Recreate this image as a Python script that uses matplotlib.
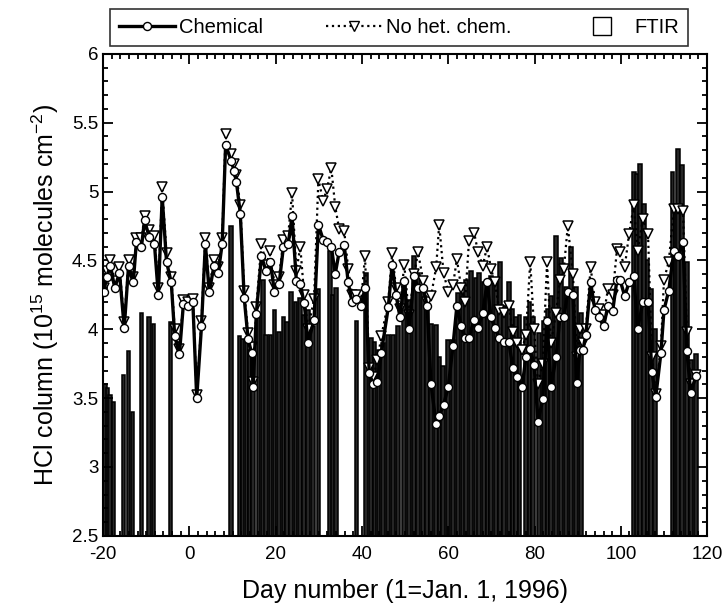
# -*- coding: utf-8 -*-
# HCl kolona: hemijski model, model bez het. hemije i FTIR merenja

# %% biblioteke

import numpy as np
import matplotlib.pyplot as plt
from matplotlib.lines import Line2D
from matplotlib.ticker import MultipleLocator, FixedLocator, FixedFormatter

# %% podaci (ocitano sa slike)

dani_model = [-19.8, -19.2, -18.3, -17.3, -16.2, -15.1, -14.1, -13.0, -12.3, -11.1,
              -10.4, -9.3, -8.1, -7.2, -6.3, -5.3, -4.2, -3.4, -2.3, -1.4,
              -0.3, 0.8, 1.7, 2.8, 3.7, 4.6, 5.7, 6.7, 7.6, 8.4,
              9.7, 10.4, 10.9, 11.8, 12.7, 13.6, 14.4, 14.8, 15.5, 16.7,
              17.8, 18.8, 19.7, 20.8, 21.8, 22.9, 23.8, 24.8, 25.7, 26.6,
              27.5, 28.9, 29.9, 31.0, 31.9, 32.9, 33.8, 34.7, 35.9, 36.8,
              37.7, 38.6, 39.8, 40.7, 41.7, 42.6, 43.6, 44.5, 46.1, 47.0,
              47.9, 48.8, 49.8, 50.9, 52.1, 53.0, 54.2, 55.1, 56.0, 57.2,
              57.9, 58.9, 60.0, 61.1, 62.0, 63.0, 63.9, 64.8, 66.0, 66.9,
              68.0, 69.0, 69.9, 70.8, 71.8, 72.9, 74.0, 75.0, 75.9, 77.1,
              78.0, 79.0, 79.9, 80.8, 81.9, 82.9, 83.8, 85.0, 85.9, 86.8,
              87.7, 88.9, 89.8, 90.5, 91.2, 91.9, 93.0, 94.0, 94.9, 96.0,
              97.0, 98.1, 99.1, 99.8, 100.9, 101.9, 103.0, 103.9, 105.1, 106.3,
              107.2, 108.1, 109.3, 110.0, 111.1, 112.3, 113.2, 114.4, 115.3, 116.2,
              117.4]

chem = [4.27, 4.38, 4.46, 4.30, 4.41, 4.01, 4.46, 4.34, 4.63, 4.60,
        4.79, 4.67, 4.62, 4.25, 4.96, 4.49, 4.34, 3.95, 3.82, 4.18,
        4.17, 4.20, 3.50, 4.02, 4.62, 4.27, 4.46, 4.41, 4.62, 5.34,
        5.22, 5.15, 5.07, 4.84, 4.23, 3.93, 3.83, 3.58, 4.11, 4.53,
        4.42, 4.49, 4.27, 4.33, 4.60, 4.62, 4.82, 4.35, 4.33, 4.19,
        3.90, 4.07, 4.76, 4.65, 4.63, 4.60, 4.40, 4.56, 4.61, 4.34,
        4.20, 4.22, 4.17, 4.30, 3.68, 3.60, 3.62, 3.83, 4.16, 4.47,
        4.25, 4.09, 4.35, 4.00, 4.39, 4.30, 4.30, 4.17, 3.60, 3.31,
        3.37, 3.45, 3.58, 3.88, 4.17, 4.02, 3.94, 3.94, 4.07, 4.01,
        4.12, 4.34, 4.09, 4.01, 3.94, 3.91, 3.91, 3.72, 3.65, 3.58,
        3.80, 3.86, 3.74, 3.33, 3.49, 4.06, 3.58, 3.80, 4.09, 4.09,
        4.27, 4.25, 3.61, 3.85, 3.85, 3.96, 4.34, 4.14, 4.09, 4.02,
        4.17, 4.13, 4.36, 4.36, 4.24, 4.34, 4.39, 4.00, 4.20, 4.20,
        3.69, 3.51, 3.83, 4.14, 4.28, 4.57, 4.53, 4.63, 3.84, 3.54,
        3.66]

no_het = [4.30, 4.42, 4.50, 4.35, 4.45, 4.05, 4.50, 4.38, 4.66, 4.66,
          4.82, 4.72, 4.68, 4.30, 5.03, 4.55, 4.38, 4.00, 3.86, 4.21,
          4.20, 4.22, 3.52, 4.06, 4.66, 4.30, 4.50, 4.45, 4.66, 5.42,
          5.27, 5.20, 5.12, 4.90, 4.28, 3.97, 3.87, 3.62, 4.16, 4.62,
          4.47, 4.57, 4.32, 4.38, 4.65, 4.68, 4.99, 4.42, 4.60, 4.25,
          4.00, 4.22, 5.09, 4.93, 5.02, 5.17, 4.89, 4.73, 4.71, 4.44,
          4.25, 4.25, 4.20, 4.53, 3.72, 3.65, 3.78, 3.95, 4.20, 4.55,
          4.30, 4.15, 4.47, 4.10, 4.40, 4.56, 4.35, 4.20, 4.24, 4.45,
          4.76, 4.41, 4.27, 4.32, 4.51, 4.30, 4.20, 4.64, 4.70, 4.56,
          4.46, 4.60, 4.44, 4.34, 4.14, 4.12, 4.17, 3.98, 3.90, 3.85,
          3.96, 4.49, 4.00, 3.60, 3.75, 4.49, 3.90, 4.12, 4.36, 4.44,
          4.75, 4.40, 3.80, 4.00, 3.90, 4.00, 4.45, 4.20, 4.15, 4.10,
          4.29, 4.25, 4.58, 4.56, 4.45, 4.69, 4.90, 4.57, 4.80, 4.69,
          3.80, 3.53, 3.88, 4.36, 4.49, 4.87, 4.87, 4.86, 3.98, 3.60,
          3.67]

dani_ftir = [-19.6, -19.0, -18.4, -17.6, -15.3, -14.1, -13.2, -11.1, -9.3, -8.3,
             -4.4, 9.7, 11.6, 12.3, 13.2, 13.9, 14.8, 16.0, 17.1, 17.8,
             18.8, 19.7, 20.8, 21.8, 22.7, 23.6, 24.6, 25.7, 26.6, 27.5,
             28.7, 29.9, 32.6, 33.3, 34.0, 38.7, 41.0, 42.1, 42.9, 43.8,
             44.8, 46.1, 47.2, 48.3, 49.8, 50.9, 52.1, 53.0, 54.2, 55.1,
             56.0, 57.2, 58.0, 58.8, 60.0, 61.1, 62.3, 63.4, 64.1, 65.3,
             66.4, 67.1, 68.3, 69.1, 69.9, 71.1, 72.0, 72.9, 74.1, 74.9,
             75.7, 76.5, 78.0, 78.8, 79.6, 81.0, 82.2, 83.0, 83.8, 85.0,
             86.1, 87.3, 88.4, 89.6, 90.7, 103.0, 103.7, 104.5, 105.3, 106.2,
             107.0, 107.9, 112.0, 112.8, 113.2, 114.1, 115.3, 116.2, 117.4]

ftir = [3.60, 3.57, 3.52, 3.47, 3.67, 3.84, 3.40, 4.12, 4.09, 4.04,
        4.05, 4.75, 3.95, 3.93, 3.93, 3.85, 3.83, 4.09, 4.36, 3.96,
        3.96, 4.14, 3.98, 4.09, 4.05, 4.27, 4.20, 4.23, 4.10, 4.14,
        4.02, 4.29, 4.57, 4.25, 4.30, 4.06, 4.41, 3.94, 3.91, 3.85,
        3.90, 3.96, 3.96, 4.02, 4.36, 4.21, 4.53, 4.41, 4.31, 4.15,
        4.04, 4.03, 3.80, 3.73, 3.92, 3.92, 4.26, 4.26, 4.36, 4.42,
        4.37, 4.41, 4.34, 4.30, 4.39, 4.36, 4.49, 4.17, 4.34, 4.15,
        4.09, 4.10, 4.09, 4.20, 4.09, 3.97, 4.06, 4.15, 4.24, 4.68,
        4.52, 4.31, 4.60, 4.31, 4.12, 5.14, 5.13, 5.20, 4.91, 4.50,
        4.29, 4.00, 5.14, 4.90, 5.31, 5.19, 4.49, 3.78, 3.82]

x_ticks = [-20, 0, 20, 40, 60, 80, 100, 120]
y_ticks = [2.5, 3, 3.5, 4, 4.5, 5, 5.5, 6]
y_tick_labels = ['2.5', '3', '3.5', '4', '4.5', '5', '5.5', '6']

# %% stil

plt.rcParams['font.family'] = ['Liberation Sans', 'DejaVu Sans']
plt.rcParams['mathtext.default'] = 'regular'
plt.rcParams['axes.unicode_minus'] = False

Y_MIN = 2.5

# %% grafik

fig = plt.figure(figsize=(7.26, 6.11), dpi=100)
ax = fig.add_axes([0.142, 0.123, 0.832, 0.789])

ftir_h = np.array(ftir) - Y_MIN
ax.bar(dani_ftir, ftir_h, bottom=Y_MIN, width=0.85, color='0.15',
       edgecolor='black', linewidth=1.1, zorder=1)

ax.plot(dani_model, no_het, color='black', linestyle=':', linewidth=1.6,
        marker='v', markersize=6.5, markerfacecolor='white',
        markeredgecolor='black', markeredgewidth=1.1, zorder=2)
ax.plot(dani_model, chem, color='black', linestyle='-', linewidth=2.4,
        marker='o', markersize=5.8, markerfacecolor='white',
        markeredgecolor='black', markeredgewidth=1.0, zorder=3)

ax.set_xlim(-20, 120)
ax.set_ylim(2.5, 6)
ax.xaxis.set_major_locator(FixedLocator(x_ticks))
ax.xaxis.set_minor_locator(MultipleLocator(2))
ax.yaxis.set_major_locator(FixedLocator(y_ticks))
ax.yaxis.set_major_formatter(FixedFormatter(y_tick_labels))
ax.yaxis.set_minor_locator(MultipleLocator(0.1))

ax.tick_params(which='both', direction='in', top=True, right=True,
               labelsize=13.5, width=1.3)
ax.tick_params(which='major', length=7)
ax.tick_params(which='minor', length=3.5)
ax.tick_params(axis='x', pad=7)
for s in ax.spines.values():
    s.set_linewidth(1.5)

ax.set_xlabel('Day number (1=Jan. 1, 1996)', fontsize=18, labelpad=12)
ax.set_ylabel('HCl column (10$^{15}$ molecules cm$^{-2}$)', fontsize=18,
              labelpad=8)

# %% legenda

handles = [
    Line2D([], [], color='black', linewidth=2.4, marker='o', markersize=5.8,
           markerfacecolor='white', markeredgecolor='black'),
    Line2D([], [], color='black', linestyle=':', linewidth=1.6, marker='v',
           markersize=6.5, markerfacecolor='white', markeredgecolor='black'),
    Line2D([], [], linestyle='none', marker='s', markersize=13,
           markerfacecolor='white', markeredgecolor='black',
           markeredgewidth=1.0),
]
labels = ['Chemical', 'No het. chem.', 'FTIR']

leg = fig.legend(handles, labels, loc='lower left',
                 bbox_to_anchor=(110 / 726, 1 - 46 / 611, 578 / 726, 38 / 611),
                 ncol=3, mode='expand', fontsize=14.5, frameon=True,
                 fancybox=False, edgecolor='black', handlelength=2.8,
                 handletextpad=0.2, borderpad=0.45, borderaxespad=0)
leg.get_frame().set_linewidth(1.2)

fig.savefig('out.png', dpi=100)
